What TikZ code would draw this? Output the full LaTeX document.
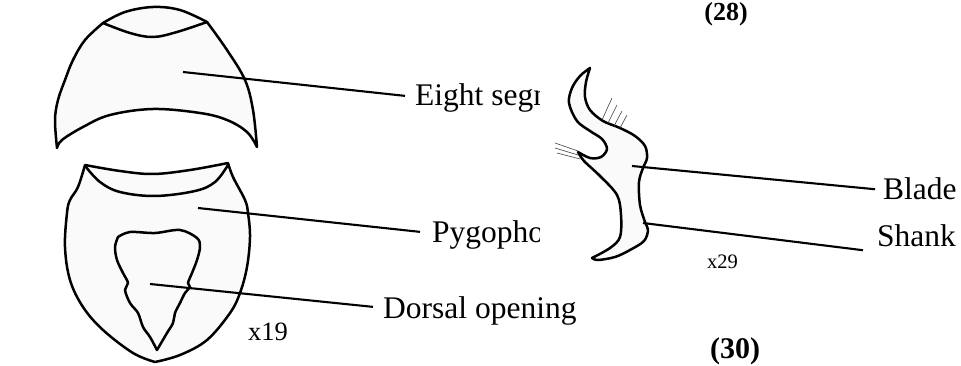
\documentclass[tikz,border=0pt]{standalone}
\usepackage{fontspec}
\setmainfont{Liberation Serif}
\usetikzlibrary{calc}
\begin{document}
\begin{tikzpicture}[x=1pt,y=-1pt,
  outline/.style={draw=black, line width=2.5pt, fill=black!2, line join=round, line cap=round},
  inner/.style={draw=black, line width=2.5pt, line cap=round},
  leader/.style={draw=black, line width=2.1pt},
  hair/.style={draw=black!75, line width=0.6pt},
  lab/.style={inner sep=0pt, font=\fontsize{31.5}{36}\selectfont},
  mag/.style={inner sep=0pt, font=\fontsize{26.5}{30}\selectfont},
  smallmag/.style={inner sep=0pt, font=\fontsize{20.5}{24}\selectfont},
  fignum/.style={inner sep=0pt, font=\bfseries\fontsize{#1}{#1}\selectfont}]
\useasboundingbox (0,0) rectangle (961,366);

% ---- eighth abdominal segment ----
\path[outline]
  plot[smooth, tension=0.6] coordinates {(103,23) (125,12) (153,7) (180,10) (207,22)}
  -- plot[smooth, tension=0.6] coordinates {(207,22) (227,50) (245,80) (253,110) (257,147)}
  -- plot[smooth, tension=0.6] coordinates {(257,147) (247,132) (227,120) (200,113) (153,109) (110,115) (83,127) (62,140) (57,148)}
  -- plot[smooth, tension=0.6] coordinates {(57,148) (55,120) (58,100) (65,80) (73,60) (85,40) (103,23)}
  -- cycle;
\draw[inner] plot[smooth, tension=0.6] coordinates {(103,23) (130,33) (153,37) (177,32) (207,22)};

% ---- pygophore ----
\path[outline]
  plot[smooth, tension=0.6] coordinates {(85,165) (120,171) (153,174) (190,170) (228,163)}
  -- plot[smooth, tension=0.6] coordinates {(228,163) (233,177) (245,200) (248,213) (250,237) (247,267) (240,293) (230,313) (207,340) (180,355) (155,362)}
  -- plot[smooth, tension=0.6] coordinates {(155,362) (133,353) (103,330) (83,307) (70,280) (65,247) (67,213) (70,200) (78,187) (85,165)}
  -- cycle;
\draw[inner] plot[smooth, tension=0.6] coordinates {(86,167) (100,182) (120,192) (155,196) (195,191) (215,182) (228,165)};

% ---- dorsal opening ----
\draw[inner, line join=round]
  plot[smooth, tension=0.55] coordinates {(118,237) (130,232) (155,233) (180,230) (197,238) (200,247) (197,260) (192,273) (188,283) (190,287) (185,293) (180,303) (175,313) (173,323) (167,333) (157,350)}
  -- plot[smooth, tension=0.55] coordinates {(157,350) (150,337) (143,327) (138,313) (130,303) (125,290) (128,283) (123,273) (117,260) (115,247) (118,237)}
  -- cycle;

% ---- paramere ----
\path[outline]
  plot[smooth, tension=0.55] coordinates {(590,68) (586,82) (585,97) (590,110) (603,121) (620,128) (635,136) (645,146) (647,158) (643,168) (639,182) (640,205) (645,222) (648,230) (644,241) (630,250) (615,257) (598,260) (592,258)}
  -- plot[smooth, tension=0.55] coordinates {(592,258) (610,248) (620,237) (621,215) (617,195) (600,176) (584,161) (578,152)}
  -- plot[smooth, tension=0.55] coordinates {(578,152) (590,158) (601,157) (607,149) (602,139) (590,131) (577,121) (569,103) (572,88) (580,76) (590,68)}
  -- cycle;
% bristles
\draw[hair] (602,120) -- (612,98);
\draw[hair] (608,123) -- (617,105);
\draw[hair] (614,126) -- (622,111);
\draw[hair] (620,128) -- (627,115);
\draw[hair] (555,143) -- (578,151);
\draw[hair] (555,148) -- (578,155);
\draw[hair] (557,153) -- (580,159);

% ---- leader anchors inside the drawings ----
\coordinate (c8) at (183,72);
\coordinate (cpyg) at (198,208);
\coordinate (cdor) at (150,284);
\coordinate (cbl) at (632,166);
\coordinate (csh) at (643,223);

% ---- labels ----
\begin{scope}
  \clip (0,0) rectangle (539,366);
  \node[lab, anchor=base west] (eight) at (415,106) {Eight segment};
  \node[lab, anchor=base west] (pyg) at (432,242) {Pygophore};
\end{scope}
\node[lab, anchor=base west] (dor) at (383,318) {Dorsal opening};
\node[lab, anchor=base west] (blade) at (883,200) {Blade};
\node[lab, anchor=base west] (shank) at (877,247) {Shank};

\node[mag, anchor=base west] (m19) at (248,340) {x19};
\node[smallmag, anchor=base west] (m29) at (707,268) {x29};
\node[fignum=26, anchor=base] (f28) at (726,21) {(28)};
\node[fignum=30, anchor=base] (f30) at (735,358) {(30)};

% ---- leader lines ----
\draw[leader] (c8) -- ($(eight.west)+(-10,-2.6)$);
\draw[leader] (cpyg) -- ($(pyg.west)+(-12,-2.6)$);
\draw[leader] (cdor) -- ($(dor.west)+(-10,-3.6)$);
\draw[leader] (cbl) -- ($(blade.west)+(-8,0)$);
\draw[leader] (csh) -- ($(shank.west)+(-14,14)$);
\end{tikzpicture}
\end{document}
